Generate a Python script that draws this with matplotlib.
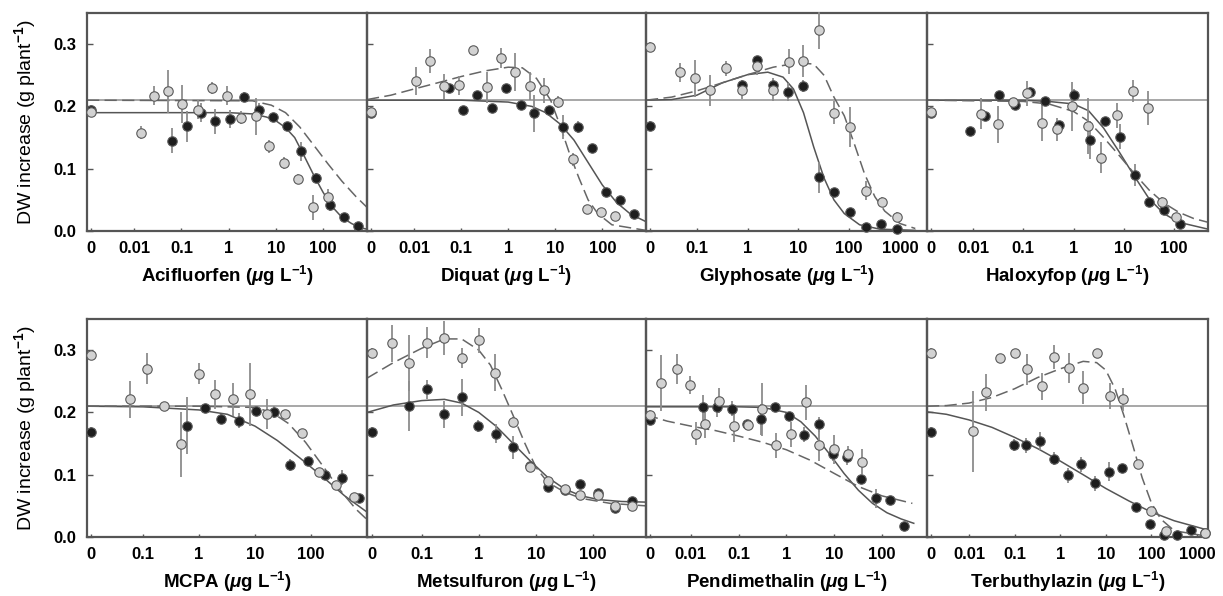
import matplotlib
matplotlib.use('Agg')
import matplotlib.pyplot as plt
import numpy as np
from matplotlib.ticker import FixedLocator, NullLocator

plt.rcParams['font.family'] = ['Liberation Sans', 'DejaVu Sans']
plt.rcParams['font.weight'] = 'bold'
plt.rcParams['mathtext.fontset'] = 'custom'
plt.rcParams['mathtext.rm'] = 'Liberation Sans:bold'
plt.rcParams['mathtext.it'] = 'Liberation Sans:italic:bold'
plt.rcParams['mathtext.bf'] = 'Liberation Sans:bold'

# Reference level drawn in every panel
REF_LEVEL = 0.21

# ---- Acifluorfen ----
ACI_CTRL = (0.191, 0.195)  # gray, black
ACI_GRAY_DOSE = [0.014, 0.026, 0.053, 0.105, 0.22, 0.44, 0.91, 1.8, 3.8, 7.3, 15, 30, 62, 129]
ACI_GRAY_Y = [0.158, 0.217, 0.224, 0.204, 0.195, 0.230, 0.217, 0.182, 0.184, 0.136, 0.109, 0.084, 0.038, 0.055]
ACI_GRAY_ERR = [0.010, 0.015, 0.035, 0.030, 0.015, 0.010, 0.015, 0.010, 0.030, 0.010, 0.010, 0.008, 0.020, 0.012]
ACI_BLACK_DOSE = [0.063, 0.13, 0.26, 0.52, 1.05, 2.1, 4.3, 8.5, 17, 34, 69, 141, 282, 560]
ACI_BLACK_Y = [0.145, 0.168, 0.190, 0.176, 0.180, 0.215, 0.195, 0.183, 0.169, 0.128, 0.085, 0.042, 0.022, 0.008]
ACI_BLACK_ERR = [0.020, 0.025, 0.015, 0.020, 0.015, 0.008, 0.010, 0.006, 0.006, 0.015, 0.008, 0.010, 0.005, 0.004]
ACI_SOLID_X = [0.001, 1, 3.2, 6.3, 10, 16, 25, 40, 63, 100, 160, 250, 400, 630, 850]
ACI_SOLID_Y = [0.19, 0.19, 0.188, 0.183, 0.177, 0.166, 0.15, 0.12, 0.09, 0.062, 0.038, 0.022, 0.012, 0.005, 0.003]
ACI_DASH_X = [0.001, 3.2, 8, 16, 32, 63, 126, 250, 500, 850]
ACI_DASH_Y = [0.21, 0.209, 0.202, 0.19, 0.167, 0.138, 0.108, 0.08, 0.055, 0.038]

# ---- Diquat ----
DIQ_CTRL = (0.191, 0.19)
DIQ_GRAY_DOSE = [0.011, 0.022, 0.044, 0.091, 0.18, 0.35, 0.72, 1.4, 2.9, 5.7, 11.5, 24, 48, 96, 190]
DIQ_GRAY_Y = [0.241, 0.273, 0.232, 0.234, 0.291, 0.231, 0.278, 0.255, 0.233, 0.226, 0.207, 0.115, 0.035, 0.030, 0.024]
DIQ_GRAY_ERR = [0.023, 0.020, 0.020, 0.015, 0.005, 0.025, 0.016, 0.030, 0.022, 0.020, 0.010, 0.010, 0.005, 0.005, 0.005]
DIQ_BLACK_DOSE = [0.056, 0.11, 0.22, 0.45, 0.89, 1.85, 3.6, 7.4, 15, 30, 60, 120, 240, 480]
DIQ_BLACK_Y = [0.229, 0.194, 0.218, 0.197, 0.229, 0.203, 0.189, 0.194, 0.167, 0.167, 0.133, 0.063, 0.049, 0.027]
DIQ_BLACK_ERR = [0.005, 0.005, 0.005, 0.005, 0.005, 0.006, 0.030, 0.006, 0.020, 0.010, 0.005, 0.006, 0.006, 0.005]
DIQ_SOLID_X = [0.001, 0.1, 1, 3.2, 6.3, 12.6, 25, 50, 100, 200, 400, 850]
DIQ_SOLID_Y = [0.21, 0.21, 0.207, 0.2, 0.19, 0.172, 0.146, 0.11, 0.074, 0.046, 0.027, 0.015]
DIQ_DASH_X = [0.001, 0.0032, 0.01, 0.032, 0.1, 0.32, 1, 2, 4, 8, 12.6, 20, 32, 50, 80, 160, 850]
DIQ_DASH_Y = [0.211, 0.218, 0.228, 0.238, 0.248, 0.257, 0.263, 0.262, 0.245, 0.21, 0.17, 0.125, 0.085, 0.05, 0.028, 0.01, 0.001]

# ---- Glyphosate ----
GLY_CTRL = (0.296, 0.169)
GLY_GRAY_DOSE = [0.047, 0.093, 0.18, 0.38, 0.78, 1.5, 3.1, 6.4, 12.6, 26, 51, 104, 215, 435, 860]
GLY_GRAY_Y = [0.255, 0.245, 0.226, 0.261, 0.227, 0.265, 0.227, 0.272, 0.273, 0.322, 0.190, 0.167, 0.065, 0.047, 0.022]
GLY_GRAY_ERR = [0.015, 0.030, 0.025, 0.012, 0.015, 0.015, 0.018, 0.020, 0.025, 0.030, 0.018, 0.032, 0.016, 0.008, 0.008]
GLY_BLACK_DOSE = [0.78, 1.5, 3.1, 6.2, 12.6, 26, 51, 104, 215, 430, 860]
GLY_BLACK_Y = [0.234, 0.274, 0.235, 0.223, 0.233, 0.086, 0.063, 0.030, 0.007, 0.012, 0.003]
GLY_BLACK_ERR = [0.006, 0.006, 0.006, 0.015, 0.010, 0.025, 0.006, 0.006, 0.004, 0.006, 0.003]
GLY_SOLID_X = [0.01, 0.032, 0.1, 0.32, 1, 2.5, 5, 8, 12.6, 20, 32, 50, 80, 160, 400, 2000]
GLY_SOLID_Y = [0.21, 0.211, 0.218, 0.238, 0.251, 0.255, 0.247, 0.228, 0.19, 0.135, 0.085, 0.05, 0.028, 0.01, 0.003, 0.001]
GLY_DASH_X = [0.01, 0.032, 0.1, 0.32, 1, 3.2, 10, 20, 32, 50, 80, 126, 200, 320, 500, 1000, 2000]
GLY_DASH_Y = [0.21, 0.215, 0.225, 0.238, 0.251, 0.263, 0.27, 0.268, 0.25, 0.215, 0.185, 0.14, 0.092, 0.055, 0.032, 0.012, 0.004]

# ---- Haloxyfop ----
HAL_CTRL = (0.191, 0.19)
HAL_GRAY_DOSE = [0.014, 0.031, 0.062, 0.12, 0.24, 0.47, 0.93, 1.95, 3.5, 7.5, 15, 30, 59, 112]
HAL_GRAY_Y = [0.188, 0.171, 0.207, 0.221, 0.174, 0.163, 0.200, 0.168, 0.118, 0.186, 0.225, 0.197, 0.046, 0.023]
HAL_GRAY_ERR = [0.025, 0.030, 0.006, 0.020, 0.030, 0.018, 0.040, 0.045, 0.025, 0.020, 0.018, 0.027, 0.008, 0.006]
HAL_BLACK_DOSE = [0.0085, 0.017, 0.033, 0.068, 0.138, 0.27, 0.52, 1.02, 2.1, 4.3, 8.3, 16.6, 32, 64, 130]
HAL_BLACK_Y = [0.161, 0.184, 0.219, 0.202, 0.223, 0.209, 0.170, 0.218, 0.146, 0.176, 0.151, 0.090, 0.047, 0.033, 0.012]
HAL_BLACK_ERR = [0.005, 0.005, 0.006, 0.005, 0.008, 0.006, 0.006, 0.010, 0.030, 0.006, 0.020, 0.018, 0.005, 0.005, 0.004]
HAL_SOLID_X = [0.0012, 0.1, 0.32, 1, 2, 4, 8, 16, 32, 63, 126, 480]
HAL_SOLID_Y = [0.21, 0.21, 0.208, 0.204, 0.193, 0.165, 0.128, 0.089, 0.052, 0.028, 0.014, 0.003]
HAL_DASH_X = [0.0012, 0.1, 0.32, 1, 2, 4, 8, 16, 32, 63, 126, 250, 480]
HAL_DASH_Y = [0.21, 0.208, 0.204, 0.192, 0.176, 0.15, 0.122, 0.093, 0.066, 0.045, 0.03, 0.02, 0.014]

# ---- MCPA ----
MCPA_CTRL = (0.293, 0.168)
MCPA_GRAY_DOSE = [0.059, 0.118, 0.234, 0.48, 1.0, 1.96, 4.0, 8, 16.4, 34, 69, 137, 280, 580]
MCPA_GRAY_Y = [0.221, 0.270, 0.210, 0.149, 0.262, 0.229, 0.221, 0.229, 0.198, 0.198, 0.167, 0.105, 0.084, 0.065]
MCPA_GRAY_ERR = [0.030, 0.025, 0.004, 0.052, 0.017, 0.023, 0.027, 0.050, 0.024, 0.006, 0.006, 0.005, 0.005, 0.004]
MCPA_BLACK_DOSE = [0.61, 1.26, 2.5, 5.1, 10.4, 21.5, 43, 87, 180, 356, 730]
MCPA_BLACK_Y = [0.179, 0.207, 0.189, 0.187, 0.202, 0.201, 0.116, 0.122, 0.099, 0.095, 0.062]
MCPA_BLACK_ERR = [0.046, 0.006, 0.008, 0.012, 0.006, 0.010, 0.010, 0.006, 0.006, 0.012, 0.004]
MCPA_SOLID_X = [0.01, 0.1, 1, 3.2, 10, 25, 63, 160, 400, 1000]
MCPA_SOLID_Y = [0.21, 0.209, 0.204, 0.197, 0.178, 0.155, 0.127, 0.097, 0.066, 0.04]
MCPA_DASH_X = [0.01, 1, 10, 20, 40, 80, 160, 320, 630, 1000]
MCPA_DASH_Y = [0.21, 0.21, 0.208, 0.2, 0.182, 0.152, 0.115, 0.077, 0.045, 0.028]

# ---- Metsulfuron ----
MET_CTRL = (0.295, 0.168)
MET_GRAY_DOSE = [0.03, 0.061, 0.122, 0.25, 0.5, 1.0, 1.9, 3.9, 7.8, 16, 32, 60, 121, 245, 490]
MET_GRAY_Y = [0.311, 0.279, 0.312, 0.320, 0.288, 0.316, 0.264, 0.184, 0.113, 0.090, 0.077, 0.067, 0.067, 0.050, 0.050]
MET_GRAY_ERR = [0.030, 0.045, 0.025, 0.027, 0.016, 0.020, 0.030, 0.008, 0.006, 0.005, 0.004, 0.004, 0.004, 0.004, 0.004]
MET_BLACK_DOSE = [0.06, 0.122, 0.25, 0.5, 0.98, 2.0, 3.9, 7.8, 16, 32, 60, 121, 245, 490]
MET_BLACK_Y = [0.210, 0.237, 0.197, 0.224, 0.178, 0.166, 0.144, 0.114, 0.081, 0.076, 0.085, 0.071, 0.046, 0.057]
MET_BLACK_ERR = [0.040, 0.015, 0.022, 0.030, 0.010, 0.015, 0.018, 0.006, 0.008, 0.004, 0.005, 0.004, 0.004, 0.004]
MET_SOLID_X = [0.011, 0.032, 0.1, 0.25, 0.5, 1, 2, 4, 8, 16, 32, 63, 126, 320, 850]
MET_SOLID_Y = [0.2, 0.212, 0.219, 0.221, 0.215, 0.2, 0.178, 0.15, 0.122, 0.096, 0.077, 0.066, 0.06, 0.057, 0.056]
MET_DASH_X = [0.011, 0.032, 0.1, 0.25, 0.5, 1, 1.6, 2.5, 4, 6.3, 10, 16, 32, 63, 200, 850]
MET_DASH_Y = [0.255, 0.28, 0.303, 0.318, 0.318, 0.3, 0.276, 0.238, 0.195, 0.152, 0.112, 0.088, 0.072, 0.062, 0.054, 0.05]

# ---- Pendimethalin ----
PEN_CTRL = (0.196, 0.188)
PEN_GRAY_DOSE = [0.0024, 0.005, 0.0095, 0.013, 0.0195, 0.039, 0.078, 0.155, 0.3, 0.6, 1.23, 2.5, 4.9, 10, 19.5, 38]
PEN_GRAY_Y = [0.247, 0.270, 0.244, 0.166, 0.181, 0.219, 0.179, 0.180, 0.205, 0.147, 0.165, 0.216, 0.147, 0.141, 0.133, 0.121]
PEN_GRAY_ERR = [0.045, 0.024, 0.015, 0.018, 0.022, 0.020, 0.027, 0.006, 0.043, 0.020, 0.020, 0.028, 0.025, 0.023, 0.013, 0.020]
PEN_BLACK_DOSE = [0.018, 0.036, 0.074, 0.147, 0.295, 0.58, 1.15, 2.3, 4.7, 9.3, 18.6, 36, 73, 145, 282]
PEN_BLACK_Y = [0.208, 0.208, 0.206, 0.181, 0.189, 0.208, 0.195, 0.164, 0.181, 0.134, 0.128, 0.093, 0.062, 0.060, 0.018]
PEN_BLACK_ERR = [0.020, 0.015, 0.012, 0.006, 0.025, 0.006, 0.006, 0.012, 0.012, 0.012, 0.012, 0.006, 0.015, 0.005, 0.004]
PEN_SOLID_X = [0.00115, 0.1, 0.32, 1, 2, 4, 8, 16, 32, 63, 126, 250, 460]
PEN_SOLID_Y = [0.209, 0.209, 0.208, 0.2, 0.185, 0.162, 0.133, 0.102, 0.075, 0.054, 0.039, 0.029, 0.022]
PEN_DASH_X = [0.00115, 0.0032, 0.01, 0.032, 0.1, 0.32, 1, 3.2, 10, 32, 100, 430]
PEN_DASH_Y = [0.196, 0.186, 0.178, 0.171, 0.162, 0.152, 0.14, 0.123, 0.102, 0.081, 0.066, 0.054]

# ---- Terbuthylazin ----
TER_CTRL = (0.295, 0.168)
TER_GRAY_DOSE = [0.012, 0.024, 0.047, 0.1, 0.19, 0.39, 0.74, 1.58, 3.2, 6.3, 12.3, 24.4, 50, 97, 205, 1540]
TER_GRAY_Y = [0.170, 0.232, 0.288, 0.296, 0.269, 0.242, 0.289, 0.271, 0.240, 0.295, 0.226, 0.221, 0.117, 0.041, 0.010, 0.006]
TER_GRAY_ERR = [0.065, 0.030, 0.006, 0.006, 0.025, 0.022, 0.019, 0.024, 0.027, 0.005, 0.021, 0.019, 0.005, 0.005, 0.004, 0.003]
TER_BLACK_DOSE = [0.097, 0.18, 0.37, 0.74, 1.45, 2.9, 5.7, 11.8, 23, 46, 92, 190, 370, 740, 1540]
TER_BLACK_Y = [0.148, 0.147, 0.154, 0.126, 0.099, 0.117, 0.086, 0.105, 0.111, 0.048, 0.021, 0.003, 0.004, 0.012, 0.007]
TER_BLACK_ERR = [0.010, 0.012, 0.015, 0.010, 0.012, 0.012, 0.012, 0.015, 0.006, 0.004, 0.004, 0.003, 0.003, 0.004, 0.003]
TER_SOLID_X = [0.0012, 0.0032, 0.01, 0.032, 0.1, 0.32, 1, 3.2, 10, 32, 100, 320, 1000, 1750]
TER_SOLID_Y = [0.201, 0.197, 0.188, 0.176, 0.16, 0.142, 0.122, 0.1, 0.078, 0.058, 0.04, 0.026, 0.016, 0.011]
TER_DASH_X = [0.0012, 0.0032, 0.01, 0.032, 0.1, 0.32, 1, 3.2, 6.3, 10, 16, 25, 40, 63, 100, 160, 320, 1750]
TER_DASH_Y = [0.21, 0.211, 0.215, 0.224, 0.238, 0.256, 0.27, 0.282, 0.28, 0.268, 0.238, 0.195, 0.145, 0.095, 0.055, 0.029, 0.01, 0.001]

NAMES = ['Acifluorfen', 'Diquat', 'Glyphosate', 'Haloxyfop',
         'MCPA', 'Metsulfuron', 'Pendimethalin', 'Terbuthylazin']
TICKS = [[0.01, 0.1, 1, 10, 100], [0.01, 0.1, 1, 10, 100], [0.1, 1, 10, 100, 1000], [0.01, 0.1, 1, 10, 100],
         [0.1, 1, 10, 100], [0.1, 1, 10, 100], [0.01, 0.1, 1, 10, 100], [0.01, 0.1, 1, 10, 100, 1000]]
Y_TICKS = [0.0, 0.1, 0.2, 0.3]

PANELS = [
    (ACI_CTRL, ACI_GRAY_DOSE, ACI_GRAY_Y, ACI_GRAY_ERR, ACI_BLACK_DOSE, ACI_BLACK_Y, ACI_BLACK_ERR,
     ACI_SOLID_X, ACI_SOLID_Y, ACI_DASH_X, ACI_DASH_Y),
    (DIQ_CTRL, DIQ_GRAY_DOSE, DIQ_GRAY_Y, DIQ_GRAY_ERR, DIQ_BLACK_DOSE, DIQ_BLACK_Y, DIQ_BLACK_ERR,
     DIQ_SOLID_X, DIQ_SOLID_Y, DIQ_DASH_X, DIQ_DASH_Y),
    (GLY_CTRL, GLY_GRAY_DOSE, GLY_GRAY_Y, GLY_GRAY_ERR, GLY_BLACK_DOSE, GLY_BLACK_Y, GLY_BLACK_ERR,
     GLY_SOLID_X, GLY_SOLID_Y, GLY_DASH_X, GLY_DASH_Y),
    (HAL_CTRL, HAL_GRAY_DOSE, HAL_GRAY_Y, HAL_GRAY_ERR, HAL_BLACK_DOSE, HAL_BLACK_Y, HAL_BLACK_ERR,
     HAL_SOLID_X, HAL_SOLID_Y, HAL_DASH_X, HAL_DASH_Y),
    (MCPA_CTRL, MCPA_GRAY_DOSE, MCPA_GRAY_Y, MCPA_GRAY_ERR, MCPA_BLACK_DOSE, MCPA_BLACK_Y, MCPA_BLACK_ERR,
     MCPA_SOLID_X, MCPA_SOLID_Y, MCPA_DASH_X, MCPA_DASH_Y),
    (MET_CTRL, MET_GRAY_DOSE, MET_GRAY_Y, MET_GRAY_ERR, MET_BLACK_DOSE, MET_BLACK_Y, MET_BLACK_ERR,
     MET_SOLID_X, MET_SOLID_Y, MET_DASH_X, MET_DASH_Y),
    (PEN_CTRL, PEN_GRAY_DOSE, PEN_GRAY_Y, PEN_GRAY_ERR, PEN_BLACK_DOSE, PEN_BLACK_Y, PEN_BLACK_ERR,
     PEN_SOLID_X, PEN_SOLID_Y, PEN_DASH_X, PEN_DASH_Y),
    (TER_CTRL, TER_GRAY_DOSE, TER_GRAY_Y, TER_GRAY_ERR, TER_BLACK_DOSE, TER_BLACK_Y, TER_BLACK_ERR,
     TER_SOLID_X, TER_SOLID_Y, TER_DASH_X, TER_DASH_Y),
]

# layout: x-range of each panel and its pixel box
XLIMS = [(0.001, 850), (0.001, 850), (0.01, 3400), (0.0012, 480),
         (0.01, 1000), (0.011, 850), (0.00115, 870), (0.0012, 1750)]
COL_EDGES = [87, 367, 646, 927, 1208]
ROW_BOX = [(13, 231), (319, 537)]
W, H = 1223, 596

SPINE = '#555555'
fig = plt.figure(figsize=(W / 100, H / 100), dpi=100)

for i, panel in enumerate(PANELS):
    row, col = divmod(i, 4)
    top, bottom = ROW_BOX[row]
    x0, x1 = COL_EDGES[col], COL_EDGES[col + 1]
    ax = fig.add_axes([x0 / W, 1 - bottom / H, (x1 - x0) / W, (bottom - top) / H])
    ax.patch.set_alpha(0)
    (ctrl, g_dose, g_y, g_err, b_dose, b_y, b_err, s_x, s_y, d_x, d_y) = panel

    ax.set_xscale('log')
    ax.set_xlim(*XLIMS[i])
    ax.set_ylim(0, 0.35)
    zero = XLIMS[i][0] * 1.2

    ax.axhline(REF_LEVEL, color='#a0a0a0', lw=1.3, zorder=1)
    ax.plot(s_x, s_y, color='#555555', lw=1.1, zorder=2)
    ax.plot(d_x, d_y, color='#666666', lw=1.1, dashes=(8, 3.5), zorder=2)

    # black series first, gray series on top
    for c, dose, ys, errs, face in [(ctrl[1], b_dose, b_y, b_err, '#1e1e1e'),
                                    (ctrl[0], g_dose, g_y, g_err, '#d2d2d2')]:
        xs = np.array([zero] + dose)
        yv = np.array([c] + ys)
        ev = np.array([0.008] + errs)
        lc = ax.vlines(xs, yv - ev, yv + ev, colors='#8c8c8c', lw=1.3, zorder=3)
        lc.set_clip_on(False)
        ax.plot(xs, yv, 'o', ms=6.8, mfc=face, mec='#5a5a5a', mew=0.8, zorder=4, clip_on=False)

    ticks = TICKS[i]
    ax.xaxis.set_major_locator(FixedLocator([zero] + ticks))
    ax.xaxis.set_minor_locator(NullLocator())
    ax.set_xticklabels(['0'] + [f'{t:g}' for t in ticks])
    ax.tick_params(axis='x', direction='in', length=2.5, width=1, color=SPINE, pad=7, labelsize=12)
    ax.set_yticks(Y_TICKS)
    ax.tick_params(axis='y', direction='in', length=4, width=1, color=SPINE, pad=8, labelsize=12)
    if col == 0:
        ax.set_yticklabels([f'{t:.1f}' for t in Y_TICKS])
    else:
        ax.set_yticklabels([])
    for sp in ax.spines.values():
        sp.set_color(SPINE)
        sp.set_linewidth(1.6)
    ax.set_xlabel(NAMES[i] + r' ($\mu$g L$^{-1}$)', fontsize=13.5, fontweight='bold', labelpad=6)

for row in range(2):
    top, bottom = ROW_BOX[row]
    fig.text(25 / W, 1 - (top + bottom) / 2 / H, r'DW increase (g plant$^{-1}$)',
             rotation=90, ha='center', va='center', fontsize=14, fontweight='normal')

fig.savefig('out.png', dpi=100)
